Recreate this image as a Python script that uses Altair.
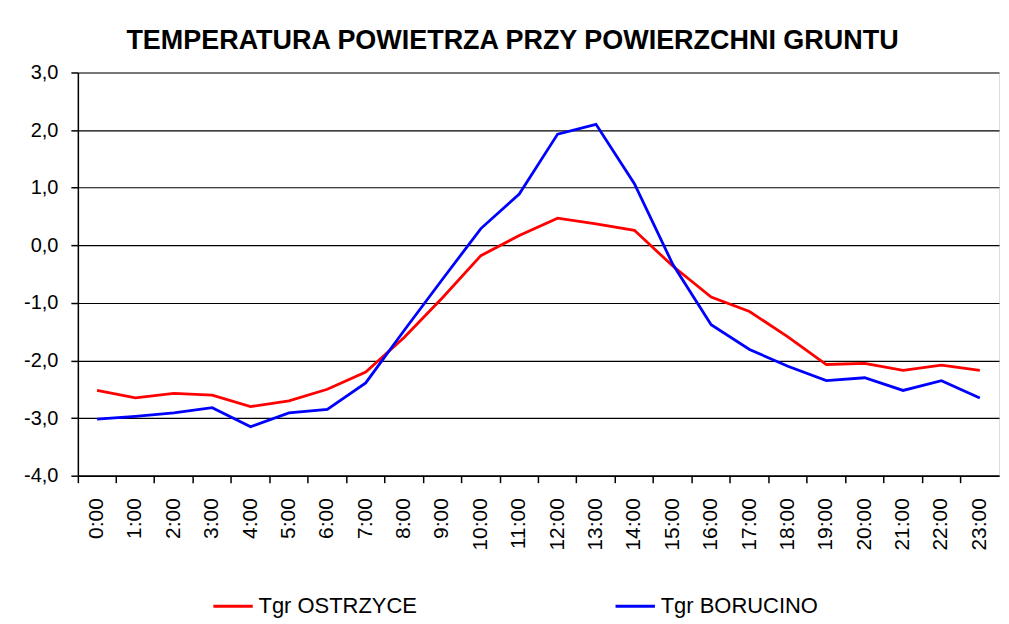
import altair as alt
import pandas as pd

hours = ["0:00", "1:00", "2:00", "3:00", "4:00", "5:00", "6:00", "7:00",
         "8:00", "9:00", "10:00", "11:00", "12:00", "13:00", "14:00", "15:00",
         "16:00", "17:00", "18:00", "19:00", "20:00", "21:00", "22:00", "23:00"]
ostrzyce = [-2.52, -2.65, -2.57, -2.60, -2.80, -2.70, -2.50, -2.20,
            -1.60, -0.91, -0.18, 0.17, 0.47, 0.37, 0.26, -0.36,
            -0.90, -1.15, -1.59, -2.07, -2.05, -2.17, -2.08, -2.17]
borucino = [-3.02, -2.97, -2.91, -2.82, -3.15, -2.91, -2.85, -2.39,
            -1.48, -0.59, 0.29, 0.89, 1.93, 2.10, 1.07, -0.33,
            -1.38, -1.81, -2.10, -2.35, -2.30, -2.52, -2.35, -2.65]
series_names = ["Tgr OSTRZYCE", "Tgr BORUCINO"]
series_colors = ["#FF0000", "#0000FF"]
y_ticks = [-4, -3, -2, -1, 0, 1, 2, 3]

rows = []
for name, vals in zip(series_names, [ostrzyce, borucino]):
    for h, v in zip(hours, vals):
        rows.append({"hour": h, "value": v, "series": name})
df = pd.DataFrame(rows)

FONT = "Liberation Sans"

chart = alt.Chart(df).mark_line(strokeWidth=2.8).encode(
    x=alt.X("hour:N", sort=hours, bandPosition=0.5,
            scale=alt.Scale(type="band", paddingInner=0, paddingOuter=0),
            axis=alt.Axis(title=None, labelAngle=270, bandPosition=0,
                          labelFontSize=21, labelFont=FONT, labelColor="black",
                          tickSize=7, tickColor="black", tickWidth=1.5,
                          domainColor="black", domainWidth=1.5,
                          labelPadding=15, grid=False)),
    y=alt.Y("value:Q",
            scale=alt.Scale(domain=[-4, 3], nice=False, zero=False),
            axis=alt.Axis(title=None, values=y_ticks,
                          labelExpr="(datum.value < 0 ? '-' : '') + replace(format(abs(datum.value), '.1f'), '.', ',')",
                          labelFontSize=20, labelFont=FONT, labelColor="black",
                          tickSize=7, tickColor="black", tickWidth=1.5,
                          domainColor="black", domainWidth=1.5,
                          labelPadding=13, grid=True, gridColor="black",
                          gridWidth=1.2, gridOpacity=1)),
    color=alt.Color("series:N", sort=series_names,
                    scale=alt.Scale(domain=series_names, range=series_colors),
                    legend=alt.Legend(orient="none", legendX=134, legendY=513,
                                      direction="horizontal", title=None,
                                      symbolType="stroke", symbolSize=1560,
                                      symbolStrokeWidth=3, labelFontSize=22,
                                      labelFont=FONT, labelColor="black",
                                      labelOffset=4, columnPadding=192,
                                      labelLimit=0)),
).properties(
    width=923,
    height=404,
    autosize=alt.AutoSizeParams(type="none"),
    padding={"left": 70, "top": 64, "right": 2, "bottom": 146},
    title=alt.TitleParams(
        text="TEMPERATURA POWIETRZA PRZY POWIERZCHNI GRUNTU",
        fontSize=27, font=FONT, fontWeight="bold", color="black",
        anchor="middle", frame="group", dx=-26, offset=8),
).configure_view(
    stroke="black", strokeWidth=1.5
).configure(background="white")

chart.save("out.html", embed_options={"renderer": "svg", "actions": False})
